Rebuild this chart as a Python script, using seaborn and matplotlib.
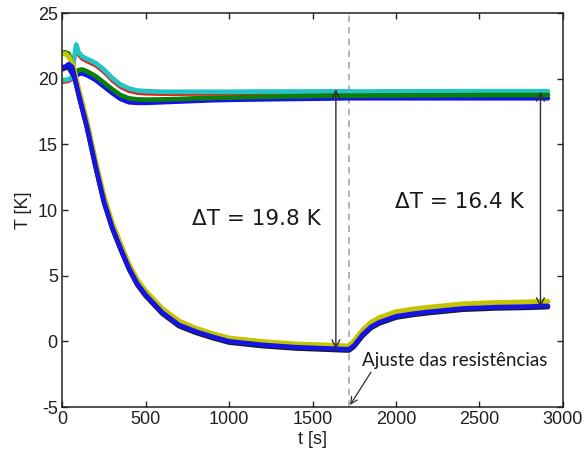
import matplotlib
matplotlib.use("Agg")
import matplotlib.pyplot as plt
import seaborn as sns
import pandas as pd

# Sample times [s]
t_s = [0, 20, 40, 60, 70, 85, 100, 120, 150, 200, 250, 300, 350, 400, 450, 500,
       600, 700, 800, 900, 1000, 1200, 1400, 1600, 1700, 1720, 1750, 1800, 1850,
       1900, 2000, 2100, 2200, 2400, 2600, 2800, 2910]

# Upper group of sensors
cyan_T = [19.9, 19.9, 19.95, 20.1, 21.4, 22.6, 22.0, 21.7, 21.5, 21.2, 20.7, 20.05,
          19.55, 19.25, 19.1, 19.05, 19.0, 19.0, 19.0, 19.0, 19.0, 19.02, 19.02, 19.03,
          19.03, 19.03, 19.02, 19.02, 19.02, 19.03, 19.03, 19.03, 19.04, 19.04, 19.04,
          19.04, 19.04]
red_T = [19.75, 19.75, 19.8, 19.95, 21.2, 22.35, 21.8, 21.5, 21.3, 21.0, 20.5, 19.85,
         19.35, 19.05, 18.9, 18.85, 18.82, 18.82, 18.83, 18.83, 18.84, 18.85, 18.86,
         18.86, 18.87, 18.87, 18.87, 18.87, 18.87, 18.88, 18.88, 18.88, 18.88, 18.89,
         18.89, 18.89, 18.89]
green_T = [22.0, 22.0, 21.9, 21.2, 20.7, 20.5, 20.65, 20.7, 20.55, 20.2, 19.7, 19.2,
           18.75, 18.5, 18.42, 18.4, 18.42, 18.45, 18.5, 18.53, 18.56, 18.62, 18.66,
           18.7, 18.7, 18.7, 18.7, 18.7, 18.72, 18.72, 18.72, 18.73, 18.73, 18.74,
           18.75, 18.75, 18.75]
blue_up_T = [20.9, 20.9, 20.8, 20.4, 20.2, 20.2, 20.35, 20.4, 20.25, 19.9, 19.4, 18.9,
             18.45, 18.2, 18.15, 18.15, 18.2, 18.25, 18.3, 18.35, 18.38, 18.42, 18.45,
             18.48, 18.5, 18.5, 18.5, 18.5, 18.5, 18.5, 18.5, 18.5, 18.5, 18.5, 18.5,
             18.5, 18.5]

# Lower group of sensors
yellow_T = [21.9, 21.9, 21.7, 21.2, 20.8, 20.0, 19.2, 18.2, 16.7, 13.8, 11.1, 9.05,
            7.45, 5.9, 4.7, 3.85, 2.5, 1.55, 1.0, 0.6, 0.25, -0.02, -0.2, -0.3, -0.35,
            -0.35, 0.05, 0.85, 1.45, 1.8, 2.25, 2.45, 2.6, 2.85, 2.95, 3.0, 3.05]
black_T = [20.7, 20.8, 21.0, 20.8, 20.3, 19.5, 18.7, 17.7, 16.2, 13.3, 10.6, 8.6,
           7.0, 5.5, 4.3, 3.45, 2.1, 1.15, 0.65, 0.25, -0.1, -0.37, -0.55, -0.65, -0.7,
           -0.7, -0.4, 0.4, 1.0, 1.35, 1.8, 2.0, 2.15, 2.4, 2.5, 2.55, 2.6]
blue_lo_T = [20.8, 20.9, 21.1, 20.9, 20.4, 19.6, 18.8, 17.8, 16.3, 13.4, 10.7, 8.7,
             7.1, 5.6, 4.4, 3.55, 2.2, 1.25, 0.75, 0.35, 0.0, -0.27, -0.45, -0.55, -0.6,
             -0.6, -0.3, 0.5, 1.1, 1.45, 1.9, 2.1, 2.25, 2.5, 2.6, 2.65, 2.7]

# Annotation values
t_adjust = 1720
dT1_t, dT1_low, dT1 = 1640, -0.6, 19.8
dT2_t, dT2_low, dT2 = 2865, 2.6, 16.4

sns.set_theme(style="ticks")
plt.rcParams["font.family"] = ["Liberation Sans", "DejaVu Sans"]
plt.rcParams["axes.unicode_minus"] = False

fig = plt.figure(figsize=(5.85, 4.57), dpi=100)
ax = fig.add_axes([62 / 585, 50 / 457, 501 / 585, 394 / 457])

series = [
    (red_T, "#e02020", 2.6),
    (cyan_T, "#22c4c4", 3.4),
    (blue_up_T, "#1414e6", 3.2),
    (green_T, "#0b7f0b", 3.4),
    (yellow_T, "#c4c400", 3.6),
    (black_T, "#1a1a1a", 3.2),
    (blue_lo_T, "#1414e6", 3.4),
]
for vals, col, lw in series:
    df = pd.DataFrame({"t": t_s, "T": vals})
    sns.lineplot(data=df, x="t", y="T", color=col, lw=lw, ax=ax,
                 estimator=None, sort=False)

ax.axvline(t_adjust, color="#a8a8a8", lw=1.2, ls=(0, (4, 3)), zorder=1)

arrow_kw = dict(arrowstyle="<->", color="#303030", lw=1.0,
                shrinkA=0, shrinkB=0, mutation_scale=14)
ax.annotate("", xy=(dT1_t, dT1_low), xytext=(dT1_t, dT1_low + dT1),
            arrowprops=arrow_kw)
ax.annotate("", xy=(dT2_t, dT2_low), xytext=(dT2_t, dT2_low + dT2),
            arrowprops=arrow_kw)

ax.text(1165, 9.3, f"ΔT = {dT1} K", family="DejaVu Sans", fontsize=15.5,
        ha="center", va="center", color="#1a1a1a")
ax.text(2377, 10.6, f"ΔT = {dT2} K", family="DejaVu Sans", fontsize=15.5,
        ha="center", va="center", color="#1a1a1a")

ax.annotate("Ajuste das resistências", xy=(t_adjust + 5, -4.85),
            xytext=(1796, -1.45), fontsize=13.5, family=["Lato", "DejaVu Sans"],
            ha="left", va="center", color="#1a1a1a",
            arrowprops=dict(arrowstyle="->", color="#303030", lw=0.9,
                            shrinkA=0, shrinkB=0, mutation_scale=12,
                            relpos=(0.06, 0.0)))

ax.set_xlim(0, 3000)
ax.set_ylim(-5, 25)
ax.set_xticks([0, 500, 1000, 1500, 2000, 2500, 3000])
ax.set_yticks([-5, 0, 5, 10, 15, 20, 25])
ax.set_xlabel("t [s]", fontsize=13, color="#202020", labelpad=2)
ax.set_ylabel("T [K]", fontsize=13, color="#202020", labelpad=4)
ax.tick_params(direction="in", length=4, width=1.0, top=True, right=True,
               labelsize=13, labelcolor="#202020", pad=3)
for sp in ax.spines.values():
    sp.set_visible(True)
    sp.set_color("#202020")
    sp.set_linewidth(1.1)

fig.savefig("out.png", dpi=100, facecolor="white")
